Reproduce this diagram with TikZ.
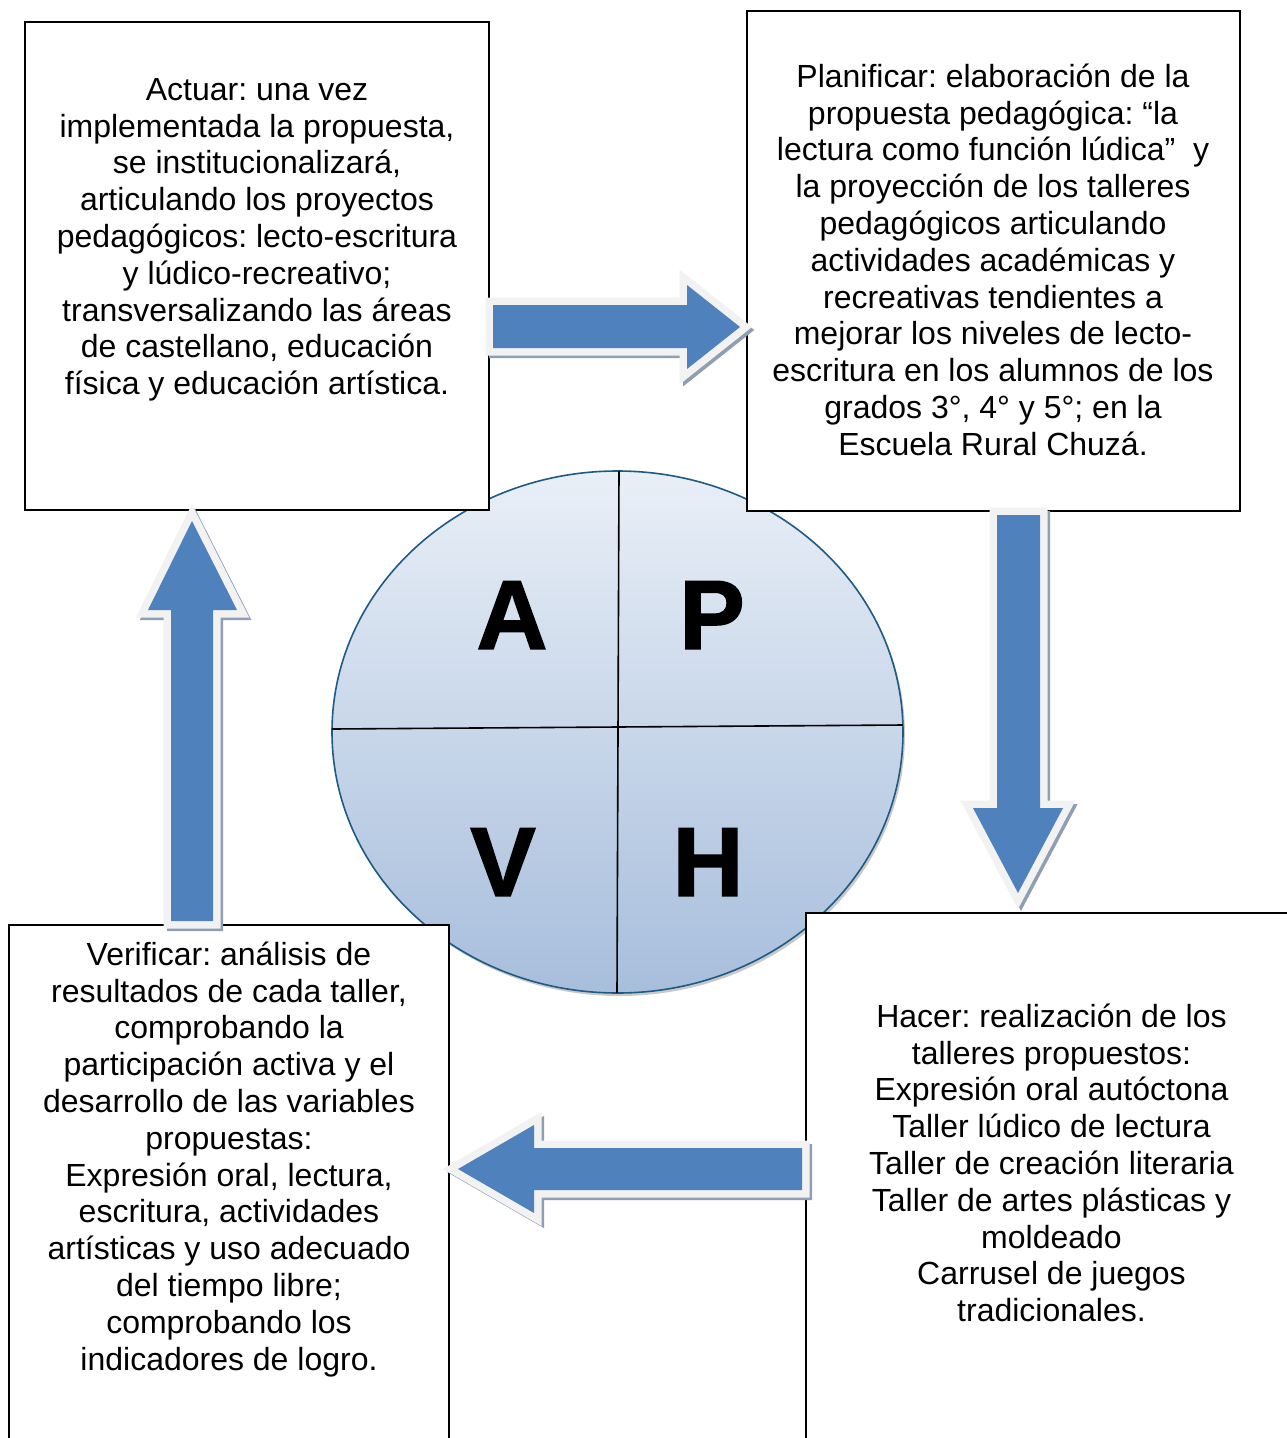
\documentclass[tikz,border=0pt]{standalone}
\usepackage{fontspec}
\setmainfont{Liberation Sans}
\newfontfamily\letterfont{Liberation Sans Bold}[FakeBold=1.6]
\usetikzlibrary{shapes.geometric,shadows}
\definecolor{arrowblue}{RGB}{79,129,189}
\definecolor{arrowrim}{RGB}{242,242,242}
\definecolor{arrowshadow}{RGB}{143,158,178}
\definecolor{circtop}{RGB}{233,239,247}
\definecolor{circbot}{RGB}{167,190,220}
\definecolor{circline}{RGB}{31,90,133}
\newcommand{\blockarr}[1]{%
  \draw[arrowshadow, fill=arrowshadow, line width=14pt, line join=miter, shift={(3,3)}] #1;
  \draw[arrowrim, line width=15pt, line join=miter] #1;
  \fill[arrowblue] #1;}
\newcommand{\firstline}{\rule{0pt}{26pt}}
\frenchspacing
\begin{document}
\begin{tikzpicture}[x=1pt,y=-1pt,
  bodytext/.style={anchor=north, inner sep=0pt, align=center, font=\fontsize{32}{36.8}\selectfont\frenchspacing},
  frame/.style={draw=black, line width=1.8pt, fill=white},
  letter/.style={inner sep=0pt, font=\fontsize{98}{98}\selectfont\letterfont},
  divider/.style={draw=black, line width=1.6pt}]
\useasboundingbox (0,0) rectangle (1287,1438);
\fill[white] (0,0) rectangle (1287,1438);
\clip (0,0) rectangle (1287,1438);

% central circle
\node[ellipse, inner sep=0pt, minimum width=571pt, minimum height=522pt,
      top color=circtop, bottom color=circbot, draw=circline, line width=1.6pt,
      drop shadow={shadow xshift=2pt, shadow yshift=-3pt, fill=black!35, opacity=0.6}]
      (cyc) at (617.5,732) {};
\coordinate (vtop) at (619,471);
\coordinate (vbot) at (617,993);
\coordinate (hleft) at (332,729);
\coordinate (hright) at (903,725);
\draw[divider] (vtop) -- (vbot);
\draw[divider] (hleft) -- (hright);
\node[letter] (la) at (512,615) {A};
\node[letter] (lp) at (712,615) {P};
\node[letter] (lv) at (503,862) {V};
\node[letter] (lh) at (708,862) {H};

% boxes
\draw[frame] (25,22) rectangle (489,510);
\draw[frame] (747,11) rectangle (1240,511);
\draw[frame] (9,925) rectangle (449,1460);
\draw[frame] (806,913) rectangle (1310,1460);

\node[bodytext] (actuar) at (257,74) {\firstline Actuar: una vez\\
implementada la propuesta,\\
se institucionalizará,\\
articulando los proyectos\\
pedagógicos: lecto-escritura\\
y lúdico-recreativo;\\
transversalizando las áreas\\
de castellano, educación\\
física y educación artística.};

\node[bodytext] (planificar) at (993,61) {\firstline Planificar: elaboración de la\\
propuesta pedagógica: “la\\
lectura como función lúdica”\ \ y\\
la proyección de los talleres\\
pedagógicos articulando\\
actividades académicas y\\
recreativas tendientes a\\
mejorar los niveles de lecto-\\
escritura en los alumnos de los\\
grados 3°, 4° y 5°; en la\\
Escuela Rural Chuzá.};

\node[bodytext] (hacer) at (1051.5,1001) {\firstline Hacer: realización de los\\
talleres propuestos:\\
Expresión oral autóctona\\
Taller lúdico de lectura\\
Taller de creación literaria\\
Taller de artes plásticas y\\
moldeado\\
Carrusel de juegos\\
tradicionales.};

\node[bodytext] (verificar) at (229,939) {\firstline Verificar: análisis de\\
resultados de cada taller,\\
comprobando la\\
participación activa y el\\
desarrollo de las variables\\
propuestas:\\
Expresión oral, lectura,\\
escritura, actividades\\
artísticas y uso adecuado\\
del tiempo libre;\\
comprobando los\\
indicadores de logro.};

% block arrows
\blockarr{(493,305) -- (687,305) -- (687,285) -- (740,327) -- (687,369) -- (687,348) -- (493,348) -- cycle}
\blockarr{(997,515) -- (1040,515) -- (1040,808) -- (1063,808) -- (1018,893) -- (973,808) -- (997,808) -- cycle}
\blockarr{(802,1148) -- (534,1148) -- (534,1125) -- (458,1169) -- (534,1213) -- (534,1190) -- (802,1190) -- cycle}
\blockarr{(171,921) -- (171,610) -- (148,610) -- (192,521) -- (237,610) -- (213,610) -- (213,921) -- cycle}
\end{tikzpicture}
\end{document}
